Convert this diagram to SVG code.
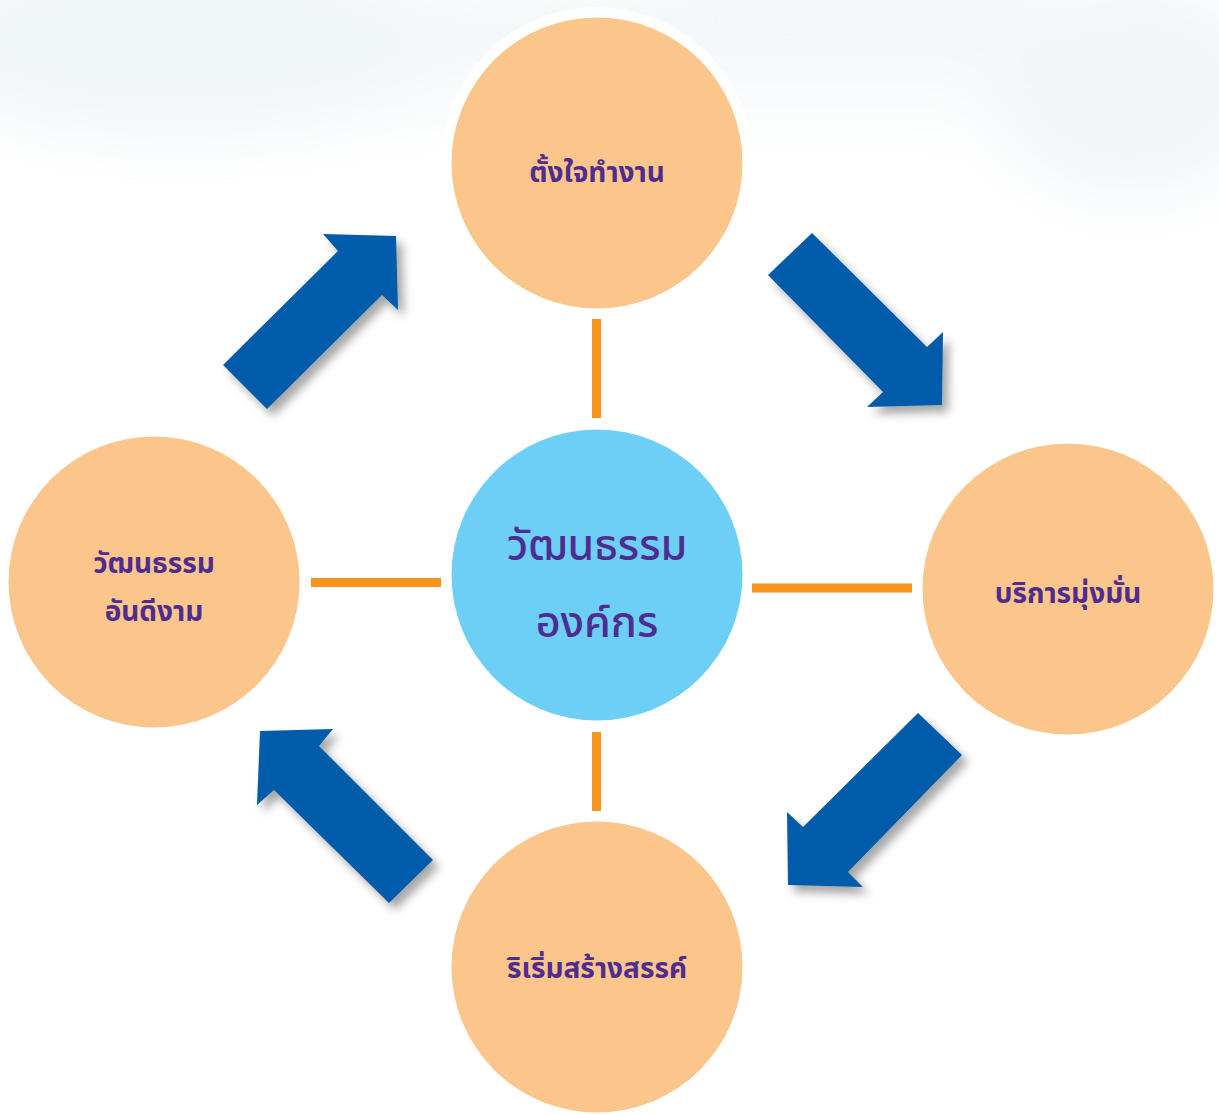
<svg xmlns="http://www.w3.org/2000/svg" width="1219" height="1114" viewBox="0 0 1219 1114">
<defs>
<linearGradient id="sky" x1="0" y1="0" x2="0" y2="1">
<stop offset="0" stop-color="#eef4f6"/>
<stop offset="0.5" stop-color="#f7fafb"/>
<stop offset="1" stop-color="#ffffff"/>
</linearGradient>
<filter id="shadow" x="-30%" y="-30%" width="170%" height="170%">
<feDropShadow dx="6" dy="7" stdDeviation="5" flood-color="#000" flood-opacity="0.35"/>
</filter>
<filter id="blur" x="-20%" y="-20%" width="140%" height="140%">
<feGaussianBlur stdDeviation="30"/>
</filter>
</defs>
<style>
.node { fill: #fbc68b; }
.hub { fill: #6dcff6; }
.link { stroke: #f7941d; stroke-width: 9; fill: none; }
.arrow { fill: #005bab; filter: url(#shadow); }
.lbl { font-family: "Noto Sans Thai", "Noto Sans", "DejaVu Sans", sans-serif; fill: #4f2d90; text-anchor: middle; font-weight: bold; font-size: 28px; }
.hubl { font-family: "Noto Sans Thai", "Noto Sans", "DejaVu Sans", sans-serif; fill: #4f2d90; text-anchor: middle; font-weight: 500; font-size: 43px; }
</style>
<rect width="1219" height="1114" fill="#ffffff"/>
<g id="background" filter="url(#blur)">
<rect x="0" y="0" width="1219" height="150" fill="url(#sky)"/>
<ellipse cx="180" cy="40" rx="260" ry="100" fill="#f1f6f8"/>
<ellipse cx="1130" cy="90" rx="140" ry="110" fill="#f2f6f8"/>
<ellipse cx="850" cy="15" rx="260" ry="50" fill="#f3f7f9"/>
</g>
<g id="connectors">
<line class="link" x1="596.5" y1="319" x2="596.5" y2="418"/>
<line class="link" x1="596.5" y1="732" x2="596.5" y2="811"/>
<line class="link" x1="311" y1="582.5" x2="441" y2="582.5"/>
<line class="link" x1="752" y1="588" x2="912" y2="588"/>
<polygon class="arrow" points="223,365 338,251 323,234 396,236 398,310 382,295 267,409"/>
<polygon class="arrow" points="768,275 812,233 927,347 943,332 942,405 867,407 883,392"/>
<polygon class="arrow" points="918,713 962,755 848,872 863,887 788,885 787,812 803,827"/>
<polygon class="arrow" points="433,860 389,903 274,790 257,805 260,731 333,729 319,746"/>
</g>
<g id="node-top">
<circle cx="597" cy="163" r="156" fill="#ffffff"/>
<circle class="node" cx="597" cy="163" r="145.5"/>
<text class="lbl" x="597" y="182">ตั้งใจทำงาน</text>
</g>
<g id="node-right">
<circle class="node" cx="1068" cy="589" r="145.5"/>
<text class="lbl" x="1068" y="603">บริการมุ่งมั่น</text>
</g>
<g id="node-bottom">
<circle class="node" cx="597" cy="967" r="145.5"/>
<text class="lbl" x="597" y="978">ริเริ่มสร้างสรรค์</text>
</g>
<g id="node-left">
<circle class="node" cx="154" cy="582" r="145.5"/>
<text class="lbl" x="154" y="573">วัฒนธรรม</text>
<text class="lbl" x="154" y="621">อันดีงาม</text>
</g>
<g id="node-center">
<circle class="hub" cx="597" cy="575" r="145.5"/>
<text class="hubl" x="597" y="560">วัฒนธรรม</text>
<text class="hubl" x="597" y="637">องค์กร</text>
</g>
</svg>
